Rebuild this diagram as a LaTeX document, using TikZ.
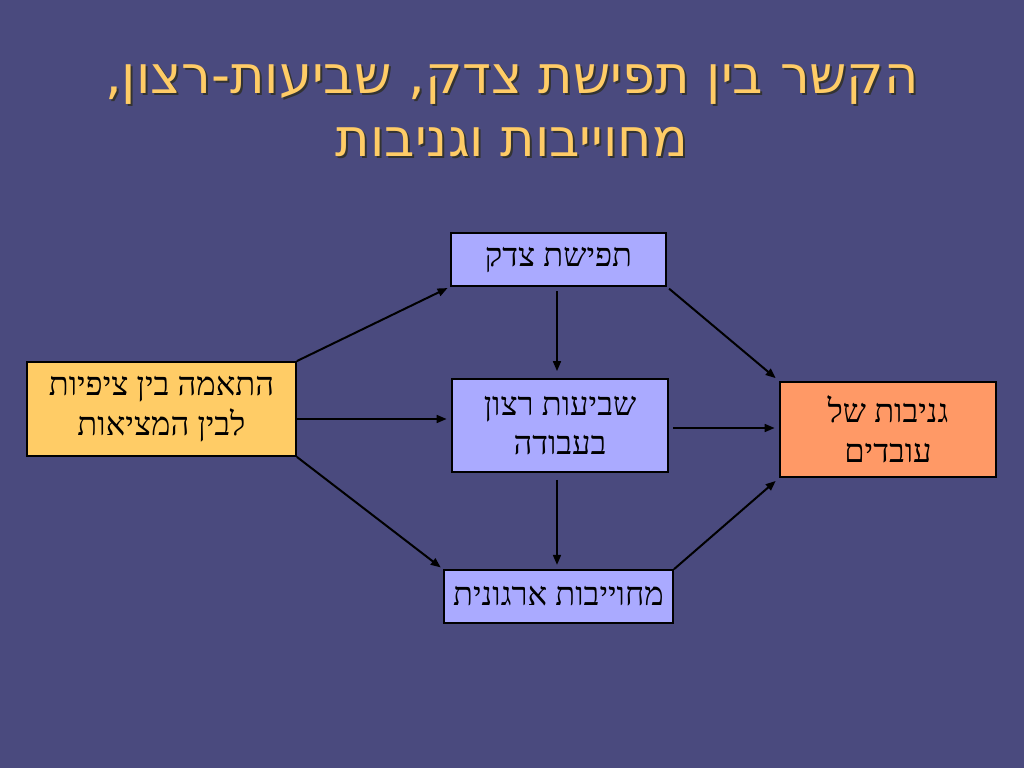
\documentclass[tikz,border=0pt]{standalone}
\usepackage{fontspec}
\usepackage{tikz}
\usetikzlibrary{positioning,arrows.meta,calc}
\TeXXeTstate=1
\newfontfamily\hebserif[Script=Hebrew]{Liberation Serif}
\newfontfamily\hebsans[Script=Hebrew]{DejaVu Sans}
\newcommand{\heb}[1]{\beginR #1\endR}
\definecolor{bgblue}{RGB}{74,74,126}
\definecolor{titlegold}{RGB}{255,204,102}
\definecolor{boxlav}{RGB}{170,170,255}
\definecolor{boxyel}{RGB}{255,204,102}
\definecolor{boxora}{RGB}{255,153,102}

\begin{document}
\begin{tikzpicture}[
  x=0.703125pt, y=-0.703125pt,
  factor/.style={rectangle, draw=black, line width=1.4pt, inner sep=2pt, align=center,
    font=\hebserif\fontsize{23}{28}\selectfont},
  link/.style={-{Triangle[length=7pt,width=5.5pt]}, line width=1.4pt},
  titletext/.style={align=center, font=\hebsans\fontsize{37}{44}\selectfont}
]
  \fill[bgblue] (0,0) rectangle (1024,768);
  \useasboundingbox (0,0) rectangle (1024,768);

  % title with shadow
  \node[titletext, black!80] (tshadow) at (514,113) {\heb{הקשר בין תפישת צדק, שביעות-רצון,}\\\heb{מחוייבות וגניבות}};
  \node[titletext, titlegold] (title) at (512,111) {\heb{הקשר בין תפישת צדק, שביעות-רצון,}\\\heb{מחוייבות וגניבות}};

  \node[factor, fill=boxlav, minimum width=151pt, minimum height=37pt] (tps) at (558.5,259.5) {\heb{תפישת צדק}};
  \node[factor, fill=boxlav, minimum width=152pt, minimum height=65pt] (mid) at (560,425.5) {\heb{שביעות רצון}\\\heb{בעבודה}};
  \node[factor, fill=boxlav, minimum width=161pt, minimum height=37pt] (bot) at (558.5,596.5) {\heb{מחוייבות ארגונית}};
  \node[factor, fill=boxyel, minimum width=189pt, minimum height=66pt] (lft) at (161.5,409) {\heb{התאמה בין ציפיות}\\\heb{לבין המציאות}};
  \node[factor, fill=boxora, minimum width=152pt, minimum height=67pt] (rgt) at (888,429.5) {\heb{גניבות של}\\\heb{עובדים}};

  \draw[link, shorten >=2pt] (lft.north east) -- (tps.south west);
  \draw[link, shorten >=3pt] (lft.east |- 0,419) -- (mid.west |- 0,419);
  \draw[link, shorten >=2pt] (lft.south east) -- (bot.north west);
  \draw[link, shorten <=3pt, shorten >=5pt] (tps.south -| 557,0) -- (mid.north -| 557,0);
  \draw[link, shorten <=5pt, shorten >=3pt] (mid.south -| 557,0) -- (bot.north -| 557,0);
  \draw[link, shorten <=2pt, shorten >=3pt] (tps.south east) -- (rgt.north west);
  \draw[link, shorten <=3pt, shorten >=3pt] (mid.east |- 0,428) -- (rgt.west |- 0,428);
  \draw[link, shorten >=3pt] (bot.north east) -- (rgt.south west);
\end{tikzpicture}
\end{document}
